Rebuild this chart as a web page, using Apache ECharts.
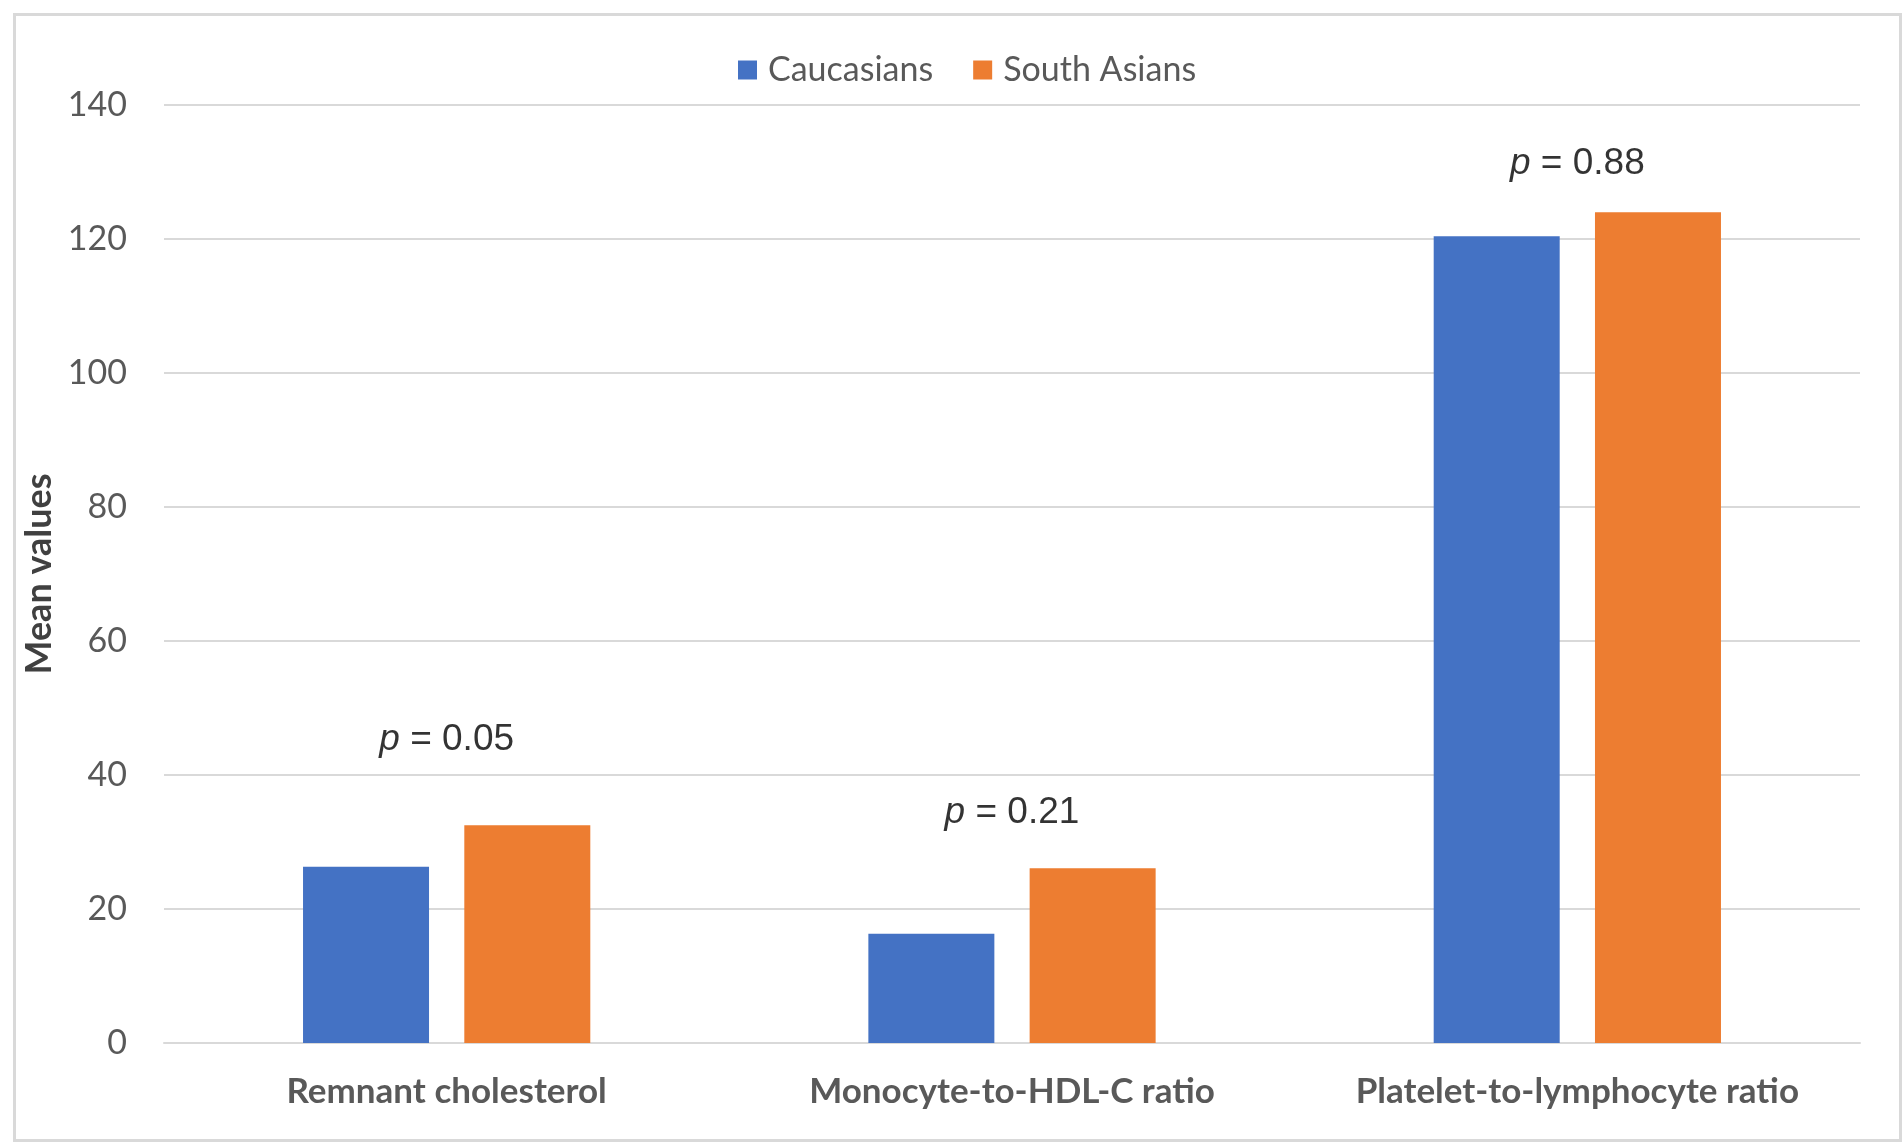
<!DOCTYPE html>
<html><head><meta charset="utf-8">
<script src="https://cdn.jsdelivr.net/npm/echarts@6/dist/echarts.min.js"></script>
<style>html,body{margin:0;padding:0;background:#fff}#c{width:1902px;height:1142px}</style>
</head><body><div id="c"></div>
<script>
const categories = ['Remnant cholesterol', 'Monocyte-to-HDL-C ratio', 'Platelet-to-lymphocyte ratio'];
const caucasians = [26.3, 16.3, 120.4];
const southAsians = [32.5, 26.1, 124.0];
const pValues = ['0.05', '0.21', '0.88'];
const pLabelAt = [45.2, 34.3, 131.2];
const yTicks = [0, 20, 40, 60, 80, 100, 120, 140];

const chart = echarts.init(document.getElementById('c'));
const fontCal = 'Lato, "Open Sans", sans-serif';
chart.setOption({
  backgroundColor: '#fff',
  animation: false,
  graphic: [{
    type: 'rect', left: 12, top: 12,
    shape: {width: 1886, height: 1126},
    style: {fill: 'none', stroke: '#d9d9d9', lineWidth: 3}
  }],
  legend: {
    data: ['Caucasians', 'South Asians'],
    left: 733, top: 48,
    itemWidth: 19, itemHeight: 19, itemGap: 40,
    icon: 'rect',
    textStyle: {fontFamily: fontCal, fontSize: 34, color: '#595959', padding: [0, 0, 0, 6]}
  },
  grid: {left: 164, right: 42, top: 105, bottom: 99},
  xAxis: {
    type: 'category', data: categories,
    axisTick: {show: false},
    axisLine: {lineStyle: {color: '#d9d9d9', width: 2}},
    axisLabel: {interval: 0, hideOverlap: false, fontFamily: fontCal, fontSize: 35, fontWeight: 'bold', color: '#595959', margin: 31}
  },
  yAxis: {
    type: 'value', min: yTicks[0], max: yTicks[yTicks.length - 1], interval: 20,
    name: 'Mean values', nameLocation: 'middle', nameGap: 101, nameRotate: 90,
    nameTextStyle: {fontFamily: fontCal, fontSize: 36, fontWeight: 'bold', color: '#404040'},
    axisLine: {show: false}, axisTick: {show: false},
    axisLabel: {fontFamily: fontCal, fontSize: 34, color: '#595959', margin: 37},
    splitLine: {lineStyle: {color: '#d9d9d9', width: 2}}
  },
  series: [
    {name: 'Caucasians', type: 'bar', data: caucasians, barWidth: 126, barGap: '28%',
     itemStyle: {color: '#4472C4'}},
    {name: 'South Asians', type: 'bar', data: southAsians, barWidth: 126, barGap: '28%',
     itemStyle: {color: '#ED7D31'}},
    {name: 'p', type: 'scatter', data: pLabelAt, symbolSize: 0.01, silent: true,
     label: {
       show: true, position: 'inside',
       formatter: p => '{i|p} = ' + pValues[p.dataIndex],
       fontFamily: '"Liberation Sans", Arial, sans-serif', fontSize: 37, color: '#000',
       rich: {i: {fontStyle: 'italic', fontFamily: '"Liberation Sans", Arial, sans-serif', fontSize: 37, color: '#000'}}
     }}
  ]
});
</script>
</body></html>
